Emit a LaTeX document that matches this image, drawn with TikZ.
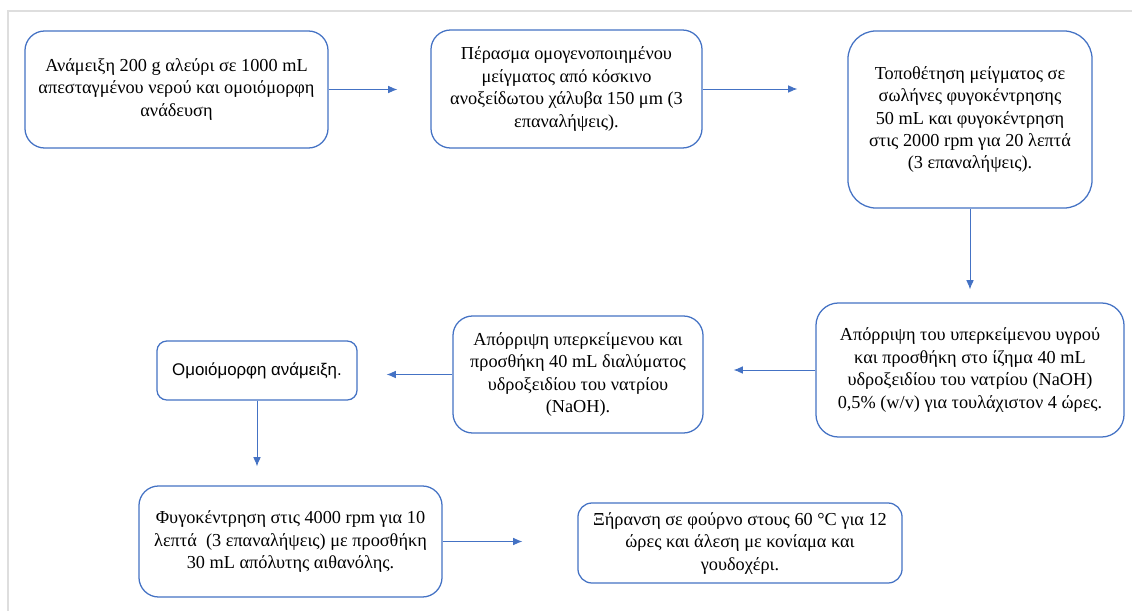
\documentclass[tikz,border=0pt]{standalone}
\usepackage{fontspec}
\setmainfont{Liberation Serif}
\newfontfamily\sansgr{Liberation Sans}
\usetikzlibrary{arrows.meta}
\definecolor{wordblue}{RGB}{68,114,196}
\definecolor{framegray}{RGB}{222,222,222}
\begin{document}
\begin{tikzpicture}[x=0.025cm,y=-0.025cm,
  stepbox/.style={draw=wordblue,line width=0.9pt,fill=white,align=center,
    font=\fontsize{13}{16}\selectfont,inner sep=0pt},
  arr/.style={draw=wordblue,line width=0.7pt,-{Latex[length=6.5pt,width=5.5pt]}}]
  \useasboundingbox (0,0) rectangle (1132,611);
  \draw[framegray,line width=1.4pt] (8,611) -- (8,11) -- (1132,11);

  % first row
  \node[stepbox,minimum width=7.575cm,minimum height=2.925cm,rounded corners=14pt] (mix) at (176.5,89.5)
    {Ανάμειξη 200 g αλεύρι σε 1000 mL\\απεσταγμένου νερού και ομοιόμορφη\\ανάδευση};
  \node[stepbox,minimum width=6.775cm,minimum height=2.95cm,rounded corners=14pt] (sieve) at (566.5,89)
    {Πέρασμα ομογενοποιημένου\\μείγματος από κόσκινο\\ανοξείδωτου χάλυβα 150 μm (3\\επαναλήψεις).};
  \node[stepbox,minimum width=6.1cm,minimum height=4.425cm,rounded corners=20pt] (spin) at (970,119.5)
    {Τοποθέτηση μείγματος σε\\σωλήνες φυγοκέντρησης\\50 mL και φυγοκέντρηση\\στις 2000 rpm για 20 λεπτά\\(3 επαναλήψεις).};

  % second row
  \node[stepbox,minimum width=7.7cm,minimum height=3.35cm,rounded corners=16pt] (naoh) at (970,370)
    {Απόρριψη του υπερκείμενου υγρού\\και προσθήκη στο ίζημα 40 mL\\υδροξειδίου του νατρίου (NaOH)\\0,5\% (w/v) για τουλάχιστον 4 ώρες.};
  \node[stepbox,minimum width=6.25cm,minimum height=2.925cm,rounded corners=14pt] (naohb) at (578,374.5)
    {Απόρριψη υπερκείμενου και\\προσθήκη 40 mL διαλύματος\\υδροξειδίου του νατρίου\\(NaOH).};
  \node[stepbox,minimum width=5cm,minimum height=1.475cm,rounded corners=7pt,
    font=\sansgr\fontsize{12}{15}\selectfont] (stir) at (257,370.5) {Ομοιόμορφη ανάμειξη.};

  % third row
  \node[stepbox,minimum width=7.575cm,minimum height=2.775cm,rounded corners=14pt] (etoh) at (290.5,541.5)
    {Φυγοκέντρηση στις 4000 rpm για 10\\λεπτά\ \ (3 επαναλήψεις) με προσθήκη\\30 mL απόλυτης αιθανόλης.};
  \node[stepbox,minimum width=8.1cm,minimum height=2cm,rounded corners=10pt] (dry) at (740,543)
    {Ξήρανση σε φούρνο στους 60 °C για 12\\ώρες και άλεση με κονίαμα και\\γουδοχέρι.};

  \draw[arr,shorten >=0.825cm] (mix.east) -- (mix.east -| sieve.west);
  \draw[arr,shorten >=1.25cm] (sieve.east) -- (sieve.east -| spin.west);
  \draw[arr,shorten >=0.325cm] (spin.south) -- (spin.south |- naoh.north);
  \draw[arr,shorten >=0.75cm] (naoh.west) -- (naoh.west -| naohb.east);
  \draw[arr,shorten >=0.725cm] (naohb.west) -- (naohb.west -| stir.east);
  \draw[arr,shorten >=0.475cm] (stir.south) -- (stir.south |- etoh.north);
  \draw[arr,shorten >=1.375cm] (etoh.east) -- (etoh.east -| dry.west);
\end{tikzpicture}
\end{document}
